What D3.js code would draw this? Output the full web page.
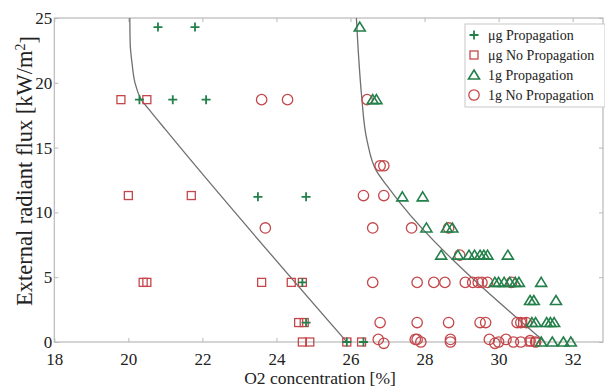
<!DOCTYPE html>
<html>
<head>
<meta charset="utf-8">
<script src="https://cdn.jsdelivr.net/npm/d3@7"></script>
<style>
	body { margin: 0; background: #fff; }
	svg text { font-family: "Liberation Serif", "Times New Roman", "DejaVu Serif", serif; }
</style>
</head>
<body>
<svg id="chart" width="605" height="389"></svg>
<script>
// O2 [%], flux [kW/m2]
var ugProp = [[20.8, 24.3], [21.8, 24.3], [20.3, 18.7], [21.2, 18.7], [22.1, 18.7],
	[23.5, 11.2], [24.8, 11.2], [24.7, 4.6], [24.8, 1.5], [25.9, 0], [26.35, 0]];
var ugNoProp = [[19.8, 18.7], [20.5, 18.7], [20.0, 11.3], [21.7, 11.3], [20.4, 4.6], [20.5, 4.6],
	[23.6, 4.6], [24.4, 4.6], [24.7, 4.6], [24.6, 1.5], [24.75, 1.5], [24.7, 0], [24.9, 0],
	[25.9, 0], [26.3, 0], [30.65, 1.5], [30.85, 0], [31.0, 0]];
var oneGProp = [[26.25, 24.3], [26.6, 18.7], [26.7, 18.7], [27.4, 11.2], [27.95, 11.2],
	[28.05, 8.8], [28.6, 8.8], [28.75, 8.8],
	[28.45, 6.7], [28.9, 6.7], [29.2, 6.7], [29.35, 6.7], [29.5, 6.7], [29.6, 6.7], [29.7, 6.7], [30.25, 6.7],
	[29.9, 4.6], [30.0, 4.6], [30.15, 4.6], [30.3, 4.6], [30.45, 4.6], [30.55, 4.6], [31.15, 4.6],
	[30.85, 3.2], [30.95, 3.2], [31.55, 3.2],
	[30.9, 1.5], [31.0, 1.5], [31.3, 1.5], [31.4, 1.5], [31.5, 1.5],
	[31.15, 0], [31.45, 0], [31.75, 0], [31.95, 0]];
var oneGNoProp = [[23.6, 18.7], [24.3, 18.7], [26.45, 18.7], [26.8, 13.6], [26.9, 13.6],
	[26.35, 11.3], [26.9, 11.3], [23.7, 8.8], [26.6, 8.8], [27.65, 8.8], [28.65, 8.8], [28.95, 6.7],
	[26.6, 4.6], [27.8, 4.6], [28.25, 4.6], [28.55, 4.6], [29.1, 4.6], [29.3, 4.6], [29.45, 4.6],
	[29.55, 4.6], [29.7, 4.6], [30.35, 4.6],
	[26.8, 1.5], [27.8, 1.5], [28.65, 1.5], [29.5, 1.5], [29.65, 1.5], [30.5, 1.5], [30.6, 1.5], [30.75, 1.5],
	[26.75, 0.2], [26.9, -0.1], [27.8, 0.2], [27.75, 0.2], [27.9, 0], [28.7, 0.2], [28.7, 0],
	[29.75, 0.2], [29.9, -0.1], [30.0, 0], [30.2, 0.2], [30.4, 0], [30.6, 0], [30.85, 0.1], [31.0, 0]];
// boundary curves [O2, flux]
var ugLimit = [[20.04, 25], [20.05, 23], [20.1, 21.5], [20.18, 20], [20.35, 18.7], [20.6, 17.8],
	[21.0, 16.4], [25.9, 0]];
var oneGLimit = [[26.16, 25], [26.22, 22], [26.3, 19], [26.45, 15.5], [26.7, 13.2], [27.0, 12.0],
	[27.35, 10.7], [31.25, 0]];
var xTicks = [18, 20, 22, 24, 26, 28, 30, 32];
var yTicks = [0, 5, 10, 15, 20, 25];
var legendNames = ["\u03bcg Propagation", "\u03bcg No Propagation", "1g Propagation", "1g No Propagation"];

var green = "#23804a", red = "#c5474b", frame = "#b8b8b8";
var serif = "'Liberation Serif', 'Times New Roman', serif";
var plotLeft = 54.3, plotRight = 603, plotTop = 18, plotBottom = 342;

var svg = d3.select("#chart");
var x = d3.scaleLinear().domain([18, 32.82]).range([plotLeft, plotRight]);
var y = d3.scaleLinear().domain([0, 25]).range([plotBottom, plotTop]);

// frame and ticks
svg.append("rect")
	.attr("x", plotLeft).attr("y", plotTop)
	.attr("width", plotRight - plotLeft).attr("height", plotBottom - plotTop)
	.style("fill", "none").style("stroke", frame).style("stroke-width", 1.2);

var xAxis = svg.append("g").attr("transform", "translate(0," + plotBottom + ")")
	.call(d3.axisBottom(x).tickValues(xTicks).tickSizeInner(-4).tickSizeOuter(0).tickPadding(11));
var xTop = svg.append("g").attr("transform", "translate(0," + plotTop + ")")
	.call(d3.axisTop(x).tickValues(xTicks).tickSizeInner(-4).tickSizeOuter(0).tickFormat(""));
var yAxis = svg.append("g").attr("transform", "translate(" + plotLeft + ",0)")
	.call(d3.axisLeft(y).tickValues(yTicks).tickSizeInner(-4).tickSizeOuter(0).tickPadding(2));
var yRight = svg.append("g").attr("transform", "translate(" + plotRight + ",0)")
	.call(d3.axisRight(y).tickValues(yTicks).tickSizeInner(-4).tickSizeOuter(0).tickFormat(""));

[xAxis, xTop, yAxis, yRight].forEach(function (g) {
	g.attr("font-family", serif).attr("font-size", 17);
	g.select(".domain").remove();
	g.selectAll("line").style("stroke", frame);
	g.selectAll("text").style("font-family", serif).style("font-size", "17px").style("fill", "#222");
});

// axis titles
svg.append("text")
	.attr("x", 320).attr("y", 384)
	.style("font-family", serif)
	.style("text-anchor", "middle").style("font-size", "17.5px").style("fill", "#222")
	.text("O2 concentration [%]");

var yLabel = svg.append("text")
	.attr("transform", "translate(32,171) rotate(-90)")
	.style("font-family", serif)
	.style("text-anchor", "middle").style("font-size", "22.5px").style("fill", "#222");
yLabel.append("tspan").text("External radiant flux [kW/m");
yLabel.append("tspan").attr("dy", "-0.5em").style("font-size", "14px").text("2");
yLabel.append("tspan").attr("dy", "0.5em").text("]");

// boundary curves
var line = d3.line()
	.x(function (d) { return x(d[0]); })
	.y(function (d) { return y(d[1]); })
	.curve(d3.curveMonotoneY);

[ugLimit, oneGLimit].forEach(function (c) {
	svg.append("path")
		.attr("d", line(c))
		.style("fill", "none").style("stroke", "#707070").style("stroke-width", 1.3);
});

// markers
function drawPlus(g, cx, cy) {
	g.append("path")
		.attr("d", "M" + (cx - 4.5) + "," + cy + "h9M" + cx + "," + (cy - 4.5) + "v9")
		.style("stroke", green).style("stroke-width", 1.8).style("fill", "none");
}
function drawSquare(g, cx, cy) {
	g.append("rect")
		.attr("x", cx - 4).attr("y", cy - 4).attr("width", 8).attr("height", 8)
		.style("fill", "none").style("stroke", red).style("stroke-width", 1.3);
}
function drawTriangle(g, cx, cy) {
	g.append("path")
		.attr("d", "M" + cx + "," + (cy - 5) + "L" + (cx + 5.5) + "," + (cy + 4) + "L" + (cx - 5.5) + "," + (cy + 4) + "Z")
		.style("fill", "none").style("stroke", green).style("stroke-width", 1.6);
}
function drawCircle(g, cx, cy) {
	g.append("circle")
		.attr("cx", cx).attr("cy", cy).attr("r", 5.2)
		.style("fill", "none").style("stroke", red).style("stroke-width", 1.3);
}

var marks = svg.append("g");
var series = [[oneGNoProp, drawCircle], [ugNoProp, drawSquare], [oneGProp, drawTriangle], [ugProp, drawPlus]];
series.forEach(function (s) {
	s[0].forEach(function (d) {
		s[1](marks, x(d[0]), y(d[1]));
	});
});

// legend
var legend = svg.append("g").attr("transform", "translate(465,24)");
legend.append("rect")
	.attr("width", 140).attr("height", 83)
	.style("fill", "#fff").style("stroke", "#c8c8c8");
var drawers = [drawPlus, drawSquare, drawTriangle, drawCircle];
legendNames.forEach(function (name, i) {
	var ly = 11 + i * 20;
	drawers[i](legend, 9, ly);
	legend.append("text")
		.attr("x", 23).attr("y", ly + 5)
		.style("font-family", serif)
		.style("font-size", "14px").style("fill", "#222")
		.text(name);
});
</script>
</body>
</html>
